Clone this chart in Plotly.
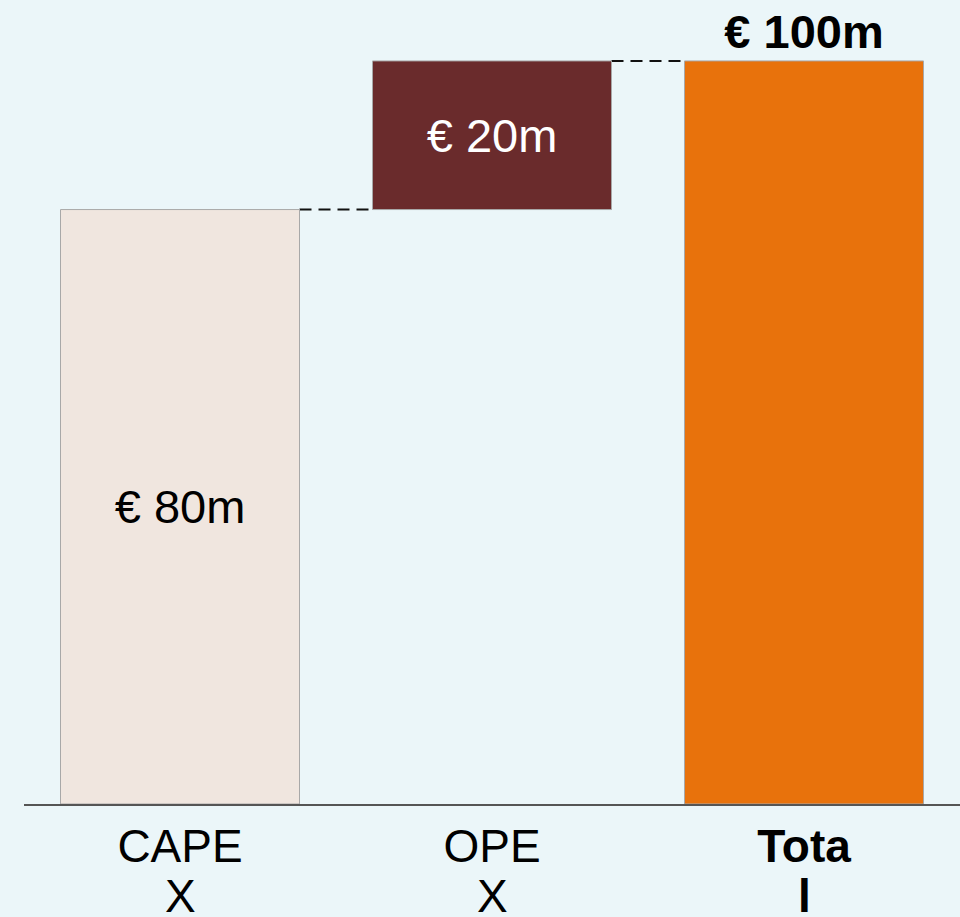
import plotly.graph_objects as go

# ---- data ----
categories = ["CAPEX", "OPEX", "Total"]
values = [80, 20, 100]
measures = ["absolute", "relative", "total"]
label_text = ["€ 80m", "€ 20m", "<b>€ 100m</b>"]
tick_line1 = ["CAPE", "OPE", "<b>Tota</b>"]
tick_line2 = ["X", "X", "<b>l</b>"]

# ---- styles ----
bar_colors = ["#F0E6DF", "#6A2B2C", "#E8720C"]
text_colors = ["#000000", "#FFFFFF", "#000000"]
text_pos = ["inside", "inside", "outside"]
bg = "#EBF6F9"
FONT = "Liberation Sans, Arial, sans-serif"
GAP = 0.234

# bases derived from the waterfall logic
bases = []
running = 0
for m, v in zip(measures, values):
    if m == "absolute":
        bases.append(0)
        running = v
    elif m == "relative":
        bases.append(running)
        running += v
    else:
        bases.append(0)
heights = [running if m == "total" else v for m, v in zip(measures, values)]

fig = go.Figure()

# waterfall trace provides connector lines (bars transparent)
fig.add_trace(go.Waterfall(
    x=categories, y=values, measure=measures,
    increasing=dict(marker=dict(color="rgba(0,0,0,0)", line=dict(width=0))),
    decreasing=dict(marker=dict(color="rgba(0,0,0,0)", line=dict(width=0))),
    totals=dict(marker=dict(color="rgba(0,0,0,0)", line=dict(width=0))),
    connector=dict(line=dict(color="#111111", width=2, dash="12px,7px"), mode="between"),
    hoverinfo="skip", showlegend=False,
))

# coloured bars
fig.add_trace(go.Bar(
    x=categories, y=heights, base=bases,
    marker=dict(color=bar_colors, line=dict(color="#A8A8A8", width=1)),
    text=label_text, textposition=text_pos, insidetextanchor="middle",
    textfont=dict(family=FONT, size=47, color=text_colors),
    cliponaxis=False, constraintext="none",
    hoverinfo="skip", showlegend=False,
))

for c, t in zip(categories, tick_line2):
    fig.add_annotation(x=c, xref="x", y=0, yref="paper", yanchor="top",
                       yshift=-64, text=t, showarrow=False,
                       font=dict(family=FONT, size=46, color="#000000"))

fig.update_layout(
    width=960, height=917,
    margin=dict(l=24, r=0, t=0, b=113),
    paper_bgcolor=bg, plot_bgcolor=bg,
    bargap=GAP, waterfallgap=GAP,
    barmode="overlay", waterfallmode="overlay",
    showlegend=False,
    font=dict(family=FONT, color="#000000"),
)
fig.update_xaxes(
    type="category", tickmode="array", tickvals=categories, ticktext=tick_line1,
    tickfont=dict(family=FONT, size=46, color="#000000"),
    showline=True, linecolor="#555555", linewidth=2, ticks="",
    showgrid=False, zeroline=False, ticklabelstandoff=1,
)
fig.update_yaxes(range=[0, 108.2], visible=False, showgrid=False, zeroline=False)

fig.write_html(
    "out.html",
    config={"displayModeBar": False},
    post_script="document.body.style.margin='0';document.body.style.background='%s';document.body.style.overflow='hidden';" % bg,
)
